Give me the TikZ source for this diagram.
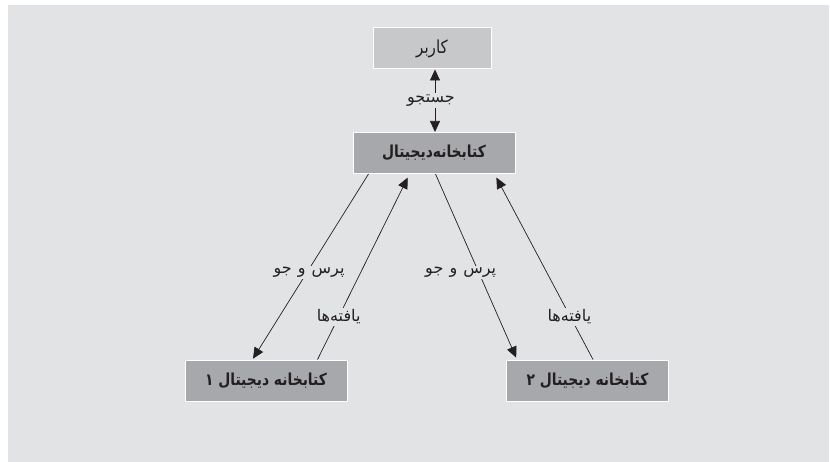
\documentclass[tikz,border=0pt]{standalone}
\usepackage{fontspec}
\TeXXeTstate=1
\newfontfamily\arabicfont[Script=Arabic,FakeStretch=0.84]{DejaVu Sans}
\newfontfamily\arabiclbl[Script=Arabic,WordSpace=1.2]{DejaVu Sans}
\usetikzlibrary{arrows.meta}
\definecolor{bgc}{HTML}{E2E3E5}
\definecolor{lightbox}{HTML}{C7C8CA}
\definecolor{darkbox}{HTML}{A7A8AB}
\definecolor{ink}{HTML}{231F20}
\newcommand{\fa}[1]{\arabicfont\beginR #1\endR}
\newcommand{\fl}[1]{\arabiclbl\beginR #1\endR}
\tikzset{
  boxbase/.style={draw=white, line width=1pt, inner sep=0pt, text=ink, font=\fontsize{16.5}{19}\selectfont},
  userbox/.style={boxbase, fill=lightbox, minimum width=118pt, minimum height=41pt, font=\fontsize{18}{20}\selectfont},
  libbox/.style={boxbase, fill=darkbox, minimum width=162pt, minimum height=41pt},
  conn/.style={draw=ink, line width=0.7pt, -{Triangle[length=11pt,width=10pt]}},
  lbl/.style={fill=bgc, inner sep=1.5pt, text=ink, font=\fontsize{16}{18}\selectfont}
}
\begin{document}
\begin{tikzpicture}[x=1pt,y=-1pt]
\useasboundingbox (0,0) rectangle (830,462);
\fill[white] (0,0) rectangle (830,462);
\fill[bgc] (8,5) rectangle (829,462);

\node[userbox] (user) at (432,48.5) {\fa{کاربر}};
\node[libbox] (dl) at (434,153) {\fa{\bfseries کتابخانه‌دیجیتال}};
\node[libbox] (d1) at (266,380.5) {\fa{\bfseries کتابخانه دیجیتال ۱}};
\node[libbox] (d2) at (587.5,380.5) {\fa{\bfseries کتابخانه دیجیتال ۲}};

% vertical search link
\draw[conn, {Triangle[length=11pt,width=10pt]}-{Triangle[length=11pt,width=10pt]}]
  ([xshift=1pt]dl.north) -- node[lbl, pos=0.5, xshift=-4pt] {\fl{جستجو}} ([xshift=3pt]user.south);

% left pair
\draw[conn, shorten >=1pt] ([xshift=16pt]dl.south west) -- node[lbl, pos=0.53, xshift=2pt] {\fl{پرس و جو}} ([xshift=68pt]d1.north west);
\draw[conn, shorten >=4pt] ([xshift=133pt]d1.north west) -- node[lbl, pos=0.23, xshift=0pt] {\fl{یافته‌ها}} ([xshift=57pt]dl.south west);

% right pair
\draw[conn, shorten >=2pt] ([xshift=83pt]dl.south west) -- node[lbl, pos=0.53, xshift=-18pt] {\fl{پرس و جو}} ([xshift=11pt]d2.north west);
\draw[conn, shorten >=4pt] ([xshift=87pt]d2.north west) -- node[lbl, pos=0.23, xshift=-1pt] {\fl{یافته‌ها}} ([xshift=142pt]dl.south west);
\end{tikzpicture}
\end{document}
